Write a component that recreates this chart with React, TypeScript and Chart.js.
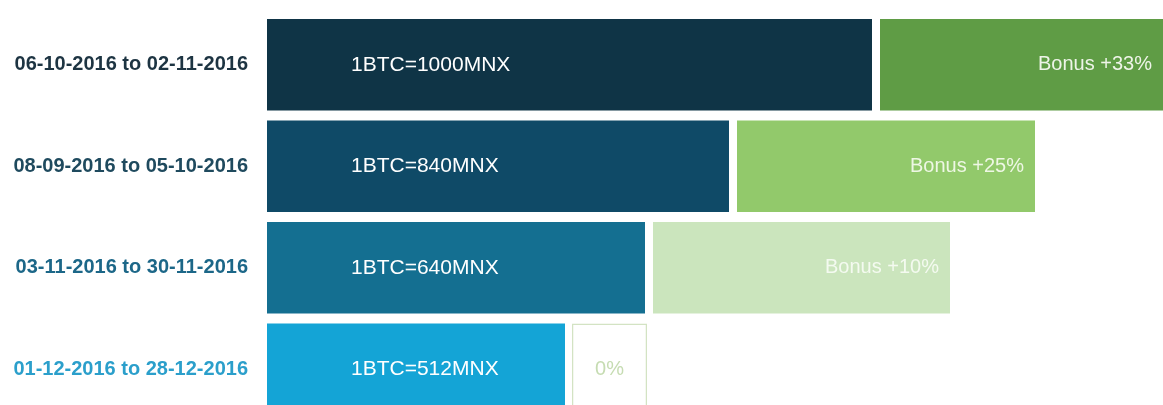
import React, { useEffect, useRef } from "react";
import { Chart, registerables } from "chart.js";

Chart.register(...registerables);

const periods = [
  "06-10-2016 to 02-11-2016",
  "08-09-2016 to 05-10-2016",
  "03-11-2016 to 30-11-2016",
  "01-12-2016 to 28-12-2016",
];
const periodColors = ["#1d3442", "#1f4a5e", "#1c6788", "#2b9fcb"];

const rateLabels = ["1BTC=1000MNX", "1BTC=840MNX", "1BTC=640MNX", "1BTC=512MNX"];
const rateValues = [605, 462, 378, 298];
const rateColors = ["#0f3446", "#0f4a67", "#146f91", "#14a4d6"];

const gapValues = [8, 8, 8, 7];

const bonusLabels = ["Bonus +33%", "Bonus +25%", "Bonus +10%", "0%"];
const bonusValues = [330, 298, 297, 75];
const bonusColors = ["#5f9c45", "#92c96b", "#cbe5bd", "#ffffff"];
const bonusBorderColors = ["#5f9c45", "#92c96b", "#cbe5bd", "#d3e3c3"];
const bonusBorderWidths = [0, 0, 0, 1.5];
const bonusTextColors = ["#eef4e8", "#eef7e4", "#f4faf0", "#c6dcb2"];

const X_MAX = 896;
const FONT = "'Liberation Sans', Arial, Helvetica, sans-serif";

export default function App() {
  const ref = useRef<HTMLCanvasElement | null>(null);

  useEffect(() => {
    if (!ref.current) return;
    const labelPlugin = {
      id: "barLabels",
      afterDatasetsDraw(chart: any) {
        const ctx = chart.ctx;
        const area = chart.chartArea;
        ctx.save();
        ctx.beginPath();
        ctx.rect(area.left, area.top, area.right - area.left, area.bottom - area.top);
        ctx.clip();
        ctx.textBaseline = "middle";
        ctx.font = `21px ${FONT}`;
        const baseMeta = chart.getDatasetMeta(0);
        baseMeta.data.forEach((bar: any, i: number) => {
          ctx.fillStyle = "#ffffff";
          ctx.textAlign = "left";
          ctx.fillText(rateLabels[i], bar.base + 84, bar.y);
        });
        const bonusMeta = chart.getDatasetMeta(2);
        ctx.font = `20px ${FONT}`;
        bonusMeta.data.forEach((bar: any, i: number) => {
          const right = Math.min(bar.x, area.right);
          const left = bar.base;
          const w = ctx.measureText(bonusLabels[i]).width;
          ctx.fillStyle = bonusTextColors[i];
          if (right - left > w + 60) {
            ctx.textAlign = "right";
            ctx.fillText(bonusLabels[i], right - 11, bar.y);
          } else {
            ctx.textAlign = "center";
            ctx.fillText(bonusLabels[i], (left + right) / 2, bar.y);
          }
        });
        ctx.restore();
      },
    };

    const chart = new Chart(ref.current, {
      type: "bar",
      data: {
        labels: periods,
        datasets: [
          {
            label: "rate",
            data: rateValues,
            backgroundColor: rateColors,
            borderWidth: 0,
          },
          {
            label: "gap",
            data: gapValues,
            backgroundColor: "rgba(0,0,0,0)",
            borderWidth: 0,
          },
          {
            label: "bonus",
            data: bonusValues,
            backgroundColor: bonusColors,
            borderColor: bonusBorderColors,
            borderWidth: bonusBorderWidths,
            borderSkipped: false,
          },
        ],
      },
      options: {
        indexAxis: "y",
        responsive: false,
        animation: false,
        maintainAspectRatio: false,
        layout: { padding: 0 },
        datasets: {
          bar: { barPercentage: 0.9, categoryPercentage: 1 },
        },
        plugins: {
          legend: { display: false },
          tooltip: { enabled: false },
          title: { display: false },
        },
        scales: {
          x: {
            stacked: true,
            display: false,
            min: 0,
            max: X_MAX,
          },
          y: {
            stacked: true,
            grid: { display: false, drawTicks: false },
            border: { display: false },
            ticks: {
              padding: 19,
              color: (c: any) => periodColors[c.index] || "#333",
              font: { family: FONT, size: 20, weight: "bold" },
            },
            afterFit: (scale: any) => {
              scale.width = 267;
            },
          },
        },
      },
      plugins: [labelPlugin],
    } as any);
    return () => chart.destroy();
  }, []);

  return (
    <div
      style={{
        position: "fixed",
        left: 0,
        top: 0,
        width: 1163,
        height: 405,
        overflow: "hidden",
        background: "#ffffff",
      }}
    >
      <canvas
        ref={ref}
        width={1163}
        height={468}
        style={{ display: "block", marginTop: -17 }}
      />
    </div>
  );
}
